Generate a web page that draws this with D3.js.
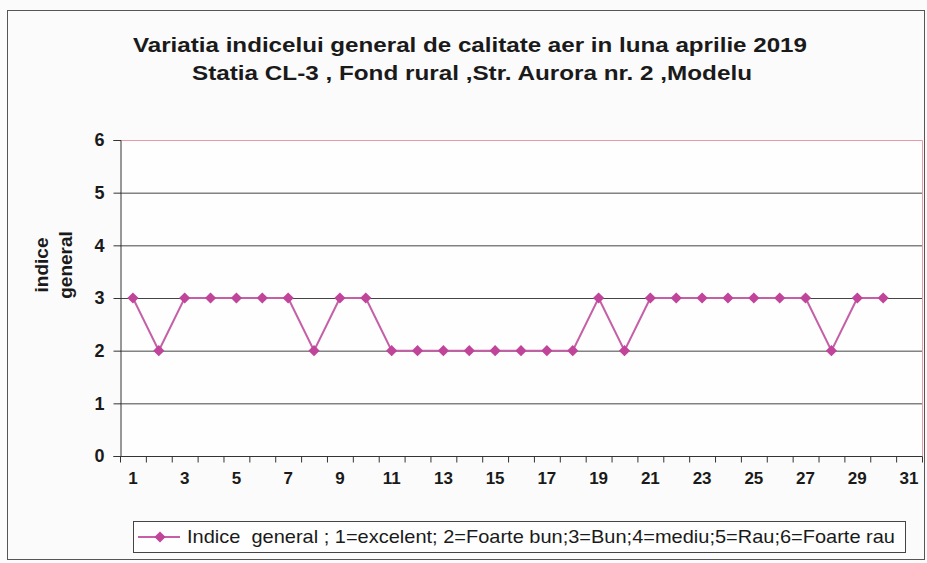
<!DOCTYPE html>
<html>
<head>
<style>
html, body {
    margin: 0;
    padding: 0;
    background: #fbfbfb;
    font-family: Arial, "Liberation Sans", sans-serif;
    overflow: hidden;
}
</style>
</head>
<body>
<svg id="chart" width="927" height="563"></svg>
<script src="https://cdnjs.cloudflare.com/ajax/libs/d3/7.8.5/d3.min.js"></script>
<script>
// April 2019, station CL-3 - daily general index
const days = d3.range(1, 32);
const values = [3, 2, 3, 3, 3, 3, 3, 2, 3, 3,
                2, 2, 2, 2, 2, 2, 2, 2, 3, 2,
                3, 3, 3, 3, 3, 3, 3, 2, 3, 3];
const yTicks = [0, 1, 2, 3, 4, 5, 6];
const titleLines = [
    "Variatia indicelui general de calitate aer in luna aprilie 2019",
    "Statia CL-3 , Fond rural ,Str. Aurora nr. 2 ,Modelu"
];
const yTitleLines = ["indice", "general"];
const legendLabel = "Indice  general ; 1=excelent; 2=Foarte bun;3=Bun;4=mediu;5=Rau;6=Foarte rau";

const lineColor = "#c560a6";
const markColor = "#c0449a";
const textColor = "#1a1a1a";

const svg = d3.select("#chart");
const plot = {left: 120, top: 140, right: 922, bottom: 456};

// outer frame
svg.append("rect")
    .attr("x", 7.5).attr("y", 10.5)
    .attr("width", 917).attr("height", 549)
    .attr("fill", "none")
    .attr("stroke", "#555")
    .attr("stroke-width", 1);

const x = d3.scaleBand()
    .domain(days)
    .range([plot.left, plot.right]);

const y = d3.scaleLinear()
    .domain([0, 6])
    .range([plot.bottom, plot.top]);

// plot background
svg.append("rect")
    .attr("x", plot.left).attr("y", plot.top)
    .attr("width", plot.right - plot.left)
    .attr("height", plot.bottom - plot.top)
    .attr("fill", "#fefefe");

// gridlines
svg.append("g")
    .selectAll("line")
    .data(yTicks.filter(d => d > 0 && d < 6))
    .join("line")
        .attr("x1", plot.left).attr("x2", plot.right)
        .attr("y1", d => y(d) + 0.5).attr("y2", d => y(d) + 0.5)
        .attr("stroke", "#444")
        .attr("stroke-width", 1);

// pink top / right border of plot area
svg.append("path")
    .attr("d", `M${plot.left},${plot.top + 0.5}H${plot.right + 0.5}V${plot.bottom}`)
    .attr("fill", "none")
    .attr("stroke", "#e89aa8")
    .attr("stroke-width", 1);

// y axis
const yAxis = svg.append("g")
    .attr("transform", `translate(${plot.left + 0.5},0)`)
    .call(d3.axisLeft(y).tickValues(yTicks).tickFormat(d3.format("d")).tickSize(7).tickPadding(9));
yAxis.select(".domain").attr("stroke", "#333");
yAxis.selectAll(".tick line").attr("stroke", "#333");
yAxis.selectAll(".tick text")
    .attr("font-size", 18)
    .attr("font-weight", "bold")
    .attr("fill", textColor)
    .attr("font-family", "Arial, 'Liberation Sans', sans-serif");

// x axis: ticks between categories, labels on odd days
const xAxisG = svg.append("g")
    .attr("transform", `translate(0,${plot.bottom + 0.5})`);
xAxisG.append("line")
    .attr("x1", plot.left).attr("x2", plot.right + 0.5)
    .attr("stroke", "#333");
xAxisG.selectAll("line.tk")
    .data(days.concat([32]))
    .join("line")
        .attr("class", "tk")
        .attr("x1", d => (d <= 31 ? x(d) : x(31) + x.bandwidth()) + 0.5)
        .attr("x2", d => (d <= 31 ? x(d) : x(31) + x.bandwidth()) + 0.5)
        .attr("y1", 0).attr("y2", 6)
        .attr("stroke", "#333");
xAxisG.selectAll("text")
    .data(days.filter(d => d % 2 === 1))
    .join("text")
        .attr("x", d => x(d) + x.bandwidth() / 2)
        .attr("y", 27)
        .attr("text-anchor", "middle")
        .attr("font-size", 17)
        .attr("font-weight", "bold")
        .attr("fill", textColor)
        .text(d => d);

// series
const pts = values.map((v, i) => ({day: days[i], v}));
const line = d3.line()
    .x(d => x(d.day) + x.bandwidth() / 2)
    .y(d => y(d.v));

svg.append("path")
    .datum(pts)
    .attr("d", line)
    .attr("fill", "none")
    .attr("stroke", lineColor)
    .attr("stroke-width", 2);

const diamond = d3.symbol().type(d3.symbolDiamond2).size(80);
svg.append("g")
    .selectAll("path")
    .data(pts)
    .join("path")
        .attr("transform", d => `translate(${x(d.day) + x.bandwidth() / 2},${y(d.v)})`)
        .attr("d", diamond)
        .attr("fill", markColor);

// titles (scanned font is condensed, so fit widths)
const titleFit = [{cx: 470, len: 674}, {cx: 472, len: 560}];
svg.append("g")
    .selectAll("text")
    .data(titleLines)
    .join("text")
        .attr("x", (d, i) => titleFit[i].cx)
        .attr("y", (d, i) => 52 + i * 28)
        .attr("text-anchor", "middle")
        .attr("font-size", 21)
        .attr("font-weight", "bold")
        .attr("fill", textColor)
        .attr("textLength", (d, i) => titleFit[i].len)
        .attr("lengthAdjust", "spacingAndGlyphs")
        .text(d => d);

// y axis title
const yTitle = svg.append("g")
    .attr("transform", "translate(0,265) rotate(-90)");
yTitle.selectAll("text")
    .data(yTitleLines)
    .join("text")
        .attr("x", 0)
        .attr("y", (d, i) => 48 + i * 24)
        .attr("text-anchor", "middle")
        .attr("font-size", 19)
        .attr("font-weight", "bold")
        .attr("fill", textColor)
        .text(d => d);

// legend
const lg = svg.append("g");
lg.append("rect")
    .attr("x", 133.5).attr("y", 521.5)
    .attr("width", 772).attr("height", 31)
    .attr("fill", "#fefefe")
    .attr("stroke", "#444");
lg.append("line")
    .attr("x1", 138).attr("x2", 180)
    .attr("y1", 537).attr("y2", 537)
    .attr("stroke", lineColor)
    .attr("stroke-width", 2);
lg.append("path")
    .attr("transform", "translate(160,537)")
    .attr("d", diamond)
    .attr("fill", markColor);
lg.append("text")
    .attr("x", 187)
    .attr("y", 543)
    .attr("font-size", 19)
    .attr("fill", textColor)
    .style("white-space", "pre")
    .attr("textLength", 708)
    .attr("lengthAdjust", "spacingAndGlyphs")
    .text(legendLabel);
</script>
</body>
</html>
